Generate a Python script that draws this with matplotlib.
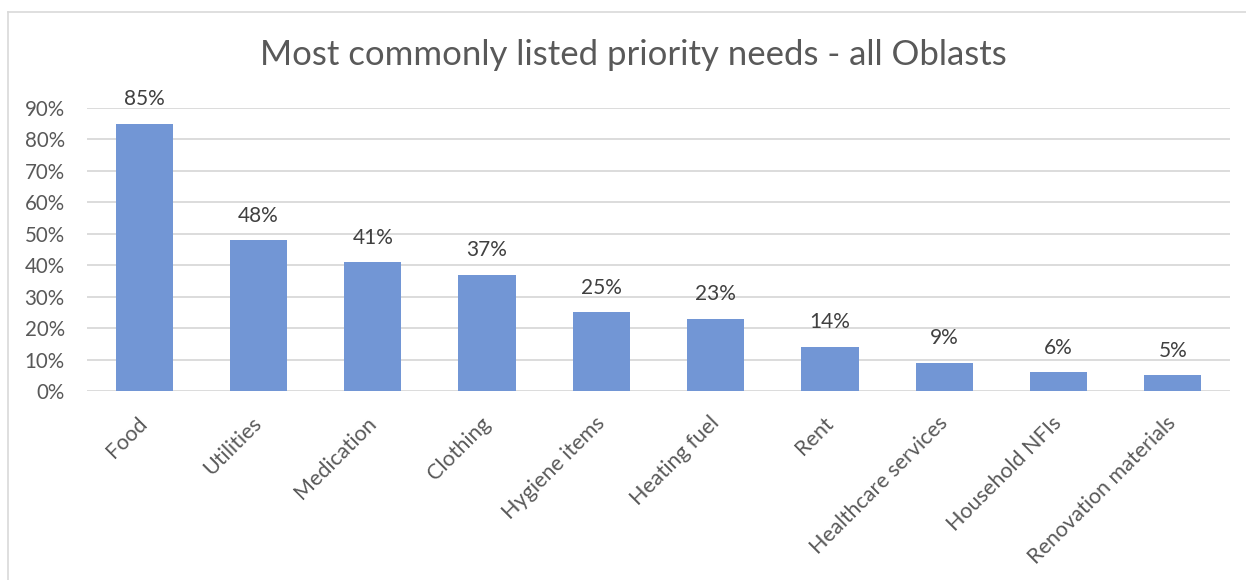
import matplotlib.pyplot as plt
from matplotlib.lines import Line2D

# Chart data
categories = ['Food', 'Utilities', 'Medication', 'Clothing', 'Hygiene items',
              'Heating fuel', 'Rent', 'Healthcare services', 'Household NFIs',
              'Renovation materials']
values = [85, 48, 41, 37, 25, 23, 14, 9, 6, 5]
yticks = [0, 10, 20, 30, 40, 50, 60, 70, 80, 90]

text_color = '#595959'
bar_color = '#7296D5'
grid_color = '#D9D9D9'

plt.rcParams['font.family'] = ['Lato', 'DejaVu Sans']

fig = plt.figure(figsize=(12.46, 5.80), dpi=100)
ax = fig.add_axes([87 / 1246, 1 - 391 / 580, (1230 - 87) / 1246, (391 - 108) / 580])

x = range(len(categories))
ax.bar(x, values, width=0.5, color=bar_color, zorder=3)

# value labels above bars
for xi, v in zip(x, values):
    ax.text(xi, v + 7.8, f'{v}%', ha='center', va='center',
            fontsize=15, color='#404040')

ax.set_xlim(-0.5, len(categories) - 0.5)
ax.set_ylim(0, 90)
ax.set_yticks(yticks)
ax.set_yticklabels([f'{t}%' for t in yticks], fontsize=14.8, color=text_color)
ax.set_xticks(list(x))
ax.set_xticklabels(categories, rotation=45, ha='right', va='center',
                   rotation_mode='anchor', fontsize=15.5, color=text_color)

ax.grid(axis='y', color=grid_color, linewidth=1.3, zorder=0)
ax.tick_params(axis='both', length=0)
ax.tick_params(axis='y', pad=16)
ax.tick_params(axis='x', pad=21)
for s in ax.spines.values():
    s.set_visible(False)

fig.text(633 / 1246, 1 - 55 / 580, 'Most commonly listed priority needs - all Oblasts',
         ha='center', va='center', fontsize=25, color=text_color)

# outer chart border (top and left edges visible)
fig.add_artist(Line2D([8 / 1246, 1], [1 - 12 / 580, 1 - 12 / 580],
                      transform=fig.transFigure, color=grid_color, linewidth=1.2))
fig.add_artist(Line2D([8 / 1246, 8 / 1246], [0, 1 - 12 / 580],
                      transform=fig.transFigure, color=grid_color, linewidth=1.2))

fig.savefig('out.png', dpi=100)
